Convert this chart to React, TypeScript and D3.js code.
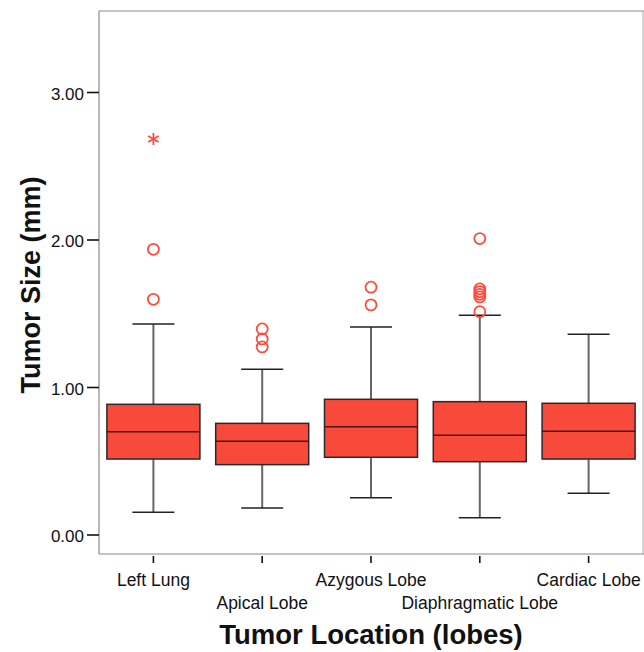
import React from "react";
import * as d3 from "d3";

// Tumor size by lobe: five-number summaries and outliers
const categories = ["Left Lung", "Apical Lobe", "Azygous Lobe", "Diaphragmatic Lobe", "Cardiac Lobe"];
const lowerWhisker = [0.154, 0.183, 0.253, 0.117, 0.283];
const q1 = [0.515, 0.477, 0.527, 0.497, 0.515];
const median = [0.7, 0.635, 0.734, 0.676, 0.703];
const q3 = [0.886, 0.757, 0.92, 0.904, 0.893];
const upperWhisker = [1.43, 1.123, 1.41, 1.49, 1.361];
const outliers: number[][] = [
  [1.598, 1.937],
  [1.275, 1.329, 1.397],
  [1.56, 1.68],
  [1.514, 1.614, 1.632, 1.65, 1.668, 2.01],
  [],
];
const extremes: number[][] = [[2.685], [], [], [], []];
const yTicks = [0, 1, 2, 3];

const W = 644;
const H = 652;
const left = 99;
const right = 643;
const top = 11;
const bottom = 554;

export default function App() {
  const x = d3.scaleBand<string>().domain(categories).range([left, right]).paddingInner(0).paddingOuter(0);
  const y = d3.scaleLinear().domain([0, 1]).range([535, 387.5]);
  const bw = x.bandwidth() * 0.855;
  const capW = 42;
  const font = "'Liberation Sans', Arial, sans-serif";
  const fill = "#f84a3b";
  const outlierColor = "#ff4b3e";

  return (
    <svg width={W} height={H} style={{ position: "absolute", left: 0, top: 0, display: "block" }}>
      <rect x={0} y={0} width={W} height={H} fill="#fff" />
      {/* frame */}
      <line x1={left} x2={right + 5} y1={top} y2={top} stroke="#8a8a8a" strokeWidth={1} />
      <line x1={left} x2={left} y1={top} y2={bottom} stroke="#8a8a8a" strokeWidth={1.2} />
      <line x1={left} x2={right + 5} y1={bottom} y2={bottom} stroke="#8a8a8a" strokeWidth={1.2} />
      <line x1={right} x2={right} y1={top} y2={bottom} stroke="#aaa" strokeWidth={1} />

      {/* y axis */}
      {yTicks.map((t) => (
        <g key={t}>
          <line x1={87} x2={left} y1={y(t)} y2={y(t)} stroke="#111" strokeWidth={1.6} />
          <text x={84} y={y(t) + 7} textAnchor="end" fontFamily={font} fontSize={17} fill="#111">
            {t.toFixed(2)}
          </text>
        </g>
      ))}
      <text
        transform={`translate(40, ${285}) rotate(-90)`}
        textAnchor="middle"
        fontFamily={font}
        fontWeight="bold"
        fontSize={27}
        fill="#111"
      >
        Tumor Size (mm)
      </text>

      {/* x axis */}
      {categories.map((c, i) => {
        const cx = (x(c) as number) + x.bandwidth() / 2;
        return (
          <g key={c}>
            <line x1={cx} x2={cx} y1={bottom + 2} y2={bottom + 9} stroke="#111" strokeWidth={1.6} />
            <text
              x={cx}
              y={i % 2 === 0 ? 586 : 608.5}
              textAnchor="middle"
              fontFamily={font}
              fontSize={17.5}
              fill="#111"
            >
              {c}
            </text>
          </g>
        );
      })}
      <text x={371} y={644} textAnchor="middle" fontFamily={font} fontWeight="bold" fontSize={27.5} fill="#111">
        Tumor Location (lobes)
      </text>

      {/* boxes */}
      {categories.map((c, i) => {
        const cx = (x(c) as number) + x.bandwidth() / 2;
        return (
          <g key={c}>
            <line x1={cx} x2={cx} y1={y(upperWhisker[i])} y2={y(q3[i])} stroke="#666" strokeWidth={2} />
            <line x1={cx} x2={cx} y1={y(q1[i])} y2={y(lowerWhisker[i])} stroke="#666" strokeWidth={2} />
            <line
              x1={cx - capW / 2}
              x2={cx + capW / 2}
              y1={y(upperWhisker[i])}
              y2={y(upperWhisker[i])}
              stroke="#222"
              strokeWidth={1.5}
            />
            <line
              x1={cx - capW / 2}
              x2={cx + capW / 2}
              y1={y(lowerWhisker[i])}
              y2={y(lowerWhisker[i])}
              stroke="#222"
              strokeWidth={1.5}
            />
            <rect
              x={cx - bw / 2}
              y={y(q3[i])}
              width={bw}
              height={y(q1[i]) - y(q3[i])}
              fill={fill}
              stroke="#2a2a2a"
              strokeWidth={1.5}
            />
            <line
              x1={cx - bw / 2}
              x2={cx + bw / 2}
              y1={y(median[i])}
              y2={y(median[i])}
              stroke="#4a1512"
              strokeWidth={1.5}
            />
            {outliers[i].map((v, j) => (
              <circle key={j} cx={cx} cy={y(v)} r={5.5} fill="none" stroke={outlierColor} strokeWidth={1.8} />
            ))}
            {extremes[i].map((v, j) => {
              const cy = y(v);
              const s = 6;
              return (
                <g key={j} stroke={outlierColor} strokeWidth={1.8}>
                  <line x1={cx} x2={cx} y1={cy - s} y2={cy + s} />
                  <line x1={cx - s * 0.87} x2={cx + s * 0.87} y1={cy - s * 0.5} y2={cy + s * 0.5} />
                  <line x1={cx - s * 0.87} x2={cx + s * 0.87} y1={cy + s * 0.5} y2={cy - s * 0.5} />
                </g>
              );
            })}
          </g>
        );
      })}
    </svg>
  );
}
